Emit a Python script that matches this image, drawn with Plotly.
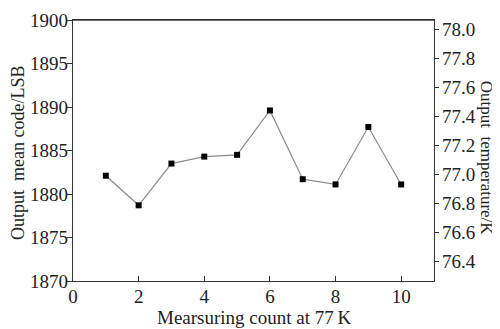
import plotly.graph_objects as go

count = [1, 2, 3, 4, 5, 6, 7, 8, 9, 10]
mean_code = [1882.1, 1878.7, 1883.5, 1884.3, 1884.5, 1889.6, 1881.7, 1881.1, 1887.7, 1881.1]

x_ticks = [0, 2, 4, 6, 8, 10]
y_ticks = [1870, 1875, 1880, 1885, 1890, 1895, 1900]
y2_ticks = [76.4, 76.6, 76.8, 77.0, 77.2, 77.4, 77.6, 77.8, 78.0]

FONT = "Liberation Serif"
OFF = 8  # page body margin
W, H = 500 - OFF, 329 - OFF
L, T = 73 - OFF, 16 - OFF - 6
R = W - (434 - OFF)
B = H - (281 - OFF)

fig = go.Figure()
fig.add_trace(go.Scatter(
    x=count, y=mean_code, mode="lines+markers",
    line=dict(color="#8c8c8c", width=1.2),
    marker=dict(symbol="square", size=6, color="black"),
    showlegend=False, hoverinfo="x+y",
))
fig.add_trace(go.Scatter(x=[None], y=[None], yaxis="y2", showlegend=False, hoverinfo="skip"))

axis_common = dict(showgrid=False, zeroline=False, showline=True, linecolor="#333333",
                   linewidth=1.3, tickcolor="#333333", ticklabeloverflow="allow",
                   tickfont=dict(family=FONT, size=19, color="#222222"))

fig.update_layout(
    width=W, height=H,
    margin=dict(l=L, r=R, t=T, b=B),
    paper_bgcolor="white", plot_bgcolor="white",
    font=dict(family=FONT, color="#222222"),
    xaxis=dict(range=[0, 11], tickvals=x_ticks, ticks="inside", ticklen=5,
               mirror=True, ticklabelstandoff=-2, **axis_common),
    yaxis=dict(range=[1870, 1900], tickvals=y_ticks, ticks="outside", ticklen=5,
               ticklabelstandoff=-5, **axis_common),
    yaxis2=dict(range=[76.262, 78.066], tickvals=y2_ticks, tickformat=".1f",
                ticks="outside", ticklen=4, overlaying="y", side="right",
                ticklabelstandoff=-1, **axis_common),
    shapes=[dict(type="line", xref="paper", yref="paper", x0=0, x1=1, y0=1, y1=1,
                 line=dict(color="#333333", width=1.3))],
    annotations=[
        dict(text="Mearsuring count at 77\u2009K", x=254, y=319, xref="paper", yref="paper",
             xanchor="center", yanchor="middle",
             showarrow=False, font=dict(family=FONT, size=19)),
        dict(text="Output  mean code/LSB", x=18, y=148, xref="paper", yref="paper",
             xanchor="center", yanchor="middle",
             showarrow=False, textangle=-90, font=dict(family=FONT, size=18)),
        dict(text="Output  temperature/K", x=486, y=153, xref="paper", yref="paper",
             xanchor="center", yanchor="middle",
             showarrow=False, textangle=90, font=dict(family=FONT, size=17)),
    ],
)

# convert page-pixel anchors of the titles to paper coords
pw, ph = W - L - R, H - T - B
for a in fig.layout.annotations:
    a.x = (a.x - OFF - L) / pw
    a.y = 1 - (a.y - OFF - T) / ph

fig.write_html("out.html")
